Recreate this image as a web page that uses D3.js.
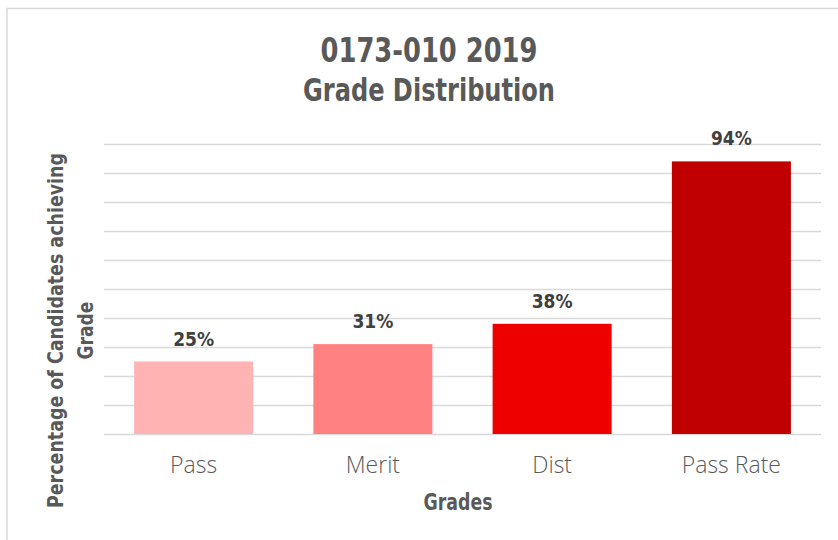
<!DOCTYPE html>
<html>
<head>
<meta charset="utf-8">
<script src="https://cdn.jsdelivr.net/npm/d3@7"></script>
<style>
  body { margin: 0; background: #fff; }
  svg text { font-family: "DejaVu Sans Condensed", "DejaVu Sans", sans-serif; }
  .xlab { font-family: "DejaVu Sans ExtraLight", "Open Sans Light", "Lato Light", "DejaVu Sans Condensed", sans-serif; }
</style>
</head>
<body>
<svg id="chart" width="838" height="540"></svg>
<script>
const categories = ["Pass", "Merit", "Dist", "Pass Rate"];
const values = [0.25, 0.31, 0.38, 0.94];
const valueLabels = ["25%", "31%", "38%", "94%"];
const colors = ["#FFB3B3", "#FF8181", "#EE0000", "#C00000"];
const yTicks = [0, 0.1, 0.2, 0.3, 0.4, 0.5, 0.6, 0.7, 0.8, 0.9, 1.0];
const titleLines = ["0173-010 2019", "Grade Distribution"];
const yTitleLines = ["Percentage of Candidates achieving", "Grade"];
const xTitle = "Grades";

const svg = d3.select("#chart");
const plot = { left: 104, right: 821, top: 144, bottom: 434 };

// chart border
svg.append("rect").attr("x", 7).attr("y", 8.5).attr("width", 900).attr("height", 600)
  .attr("fill", "#fff").attr("stroke", "#d9d9d9").attr("stroke-width", 1.5);

const x = d3.scaleBand().domain(categories).range([plot.left, plot.right])
  .paddingInner(0.336).paddingOuter(0.168);
const y = d3.scaleLinear().domain([0, 1]).range([plot.bottom, plot.top]);

// gridlines via axis
const grid = svg.append("g").attr("transform", `translate(${plot.left},0)`)
  .call(d3.axisLeft(y).tickValues(yTicks).tickSize(-(plot.right - plot.left)).tickFormat(""));
grid.select(".domain").remove();
grid.selectAll(".tick line").attr("stroke", "#d9d9d9").attr("stroke-width", 1.4);

// bars
svg.append("g").selectAll("rect").data(categories).join("rect")
  .attr("x", d => x(d)).attr("width", x.bandwidth())
  .attr("y", (d, i) => y(values[i]))
  .attr("height", (d, i) => y(0) - y(values[i]))
  .attr("fill", (d, i) => colors[i]);

// value labels
svg.append("g").selectAll("text").data(categories).join("text")
  .attr("x", d => x(d) + x.bandwidth() / 2)
  .attr("y", (d, i) => y(values[i]) - 16)
  .attr("text-anchor", "middle")
  .attr("font-size", 19).attr("font-weight", "bold").attr("fill", "#404040")
  .text((d, i) => valueLabels[i]);

// x axis labels
const xa = svg.append("g").attr("transform", `translate(0,${plot.bottom})`)
  .call(d3.axisBottom(x).tickSize(0).tickPadding(0));
xa.select(".domain").remove();
xa.selectAll(".tick text")
  .attr("class", "xlab")
  .attr("dy", 0).attr("y", 39)
  .attr("font-family", null)
  .attr("font-size", 23).attr("fill", "#595959");

// title
svg.append("text").attr("x", 429).attr("y", 62).attr("text-anchor", "middle")
  .attr("font-size", 33).attr("font-weight", "bold").attr("fill", "#595959")
  .attr("textLength", 217).attr("lengthAdjust", "spacingAndGlyphs")
  .text(titleLines[0]);
svg.append("text").attr("x", 429).attr("y", 101).attr("text-anchor", "middle")
  .attr("font-size", 32).attr("font-weight", "bold").attr("fill", "#595959")
  .attr("textLength", 252).attr("lengthAdjust", "spacingAndGlyphs")
  .text(titleLines[1]);

// y axis title
const yt = svg.append("g").attr("transform", "translate(63,330.5) rotate(-90)");
yt.append("text").attr("x", 0).attr("y", 0).attr("text-anchor", "middle")
  .attr("font-size", 22).attr("font-weight", "bold").attr("fill", "#595959")
  .attr("textLength", 355).attr("lengthAdjust", "spacingAndGlyphs")
  .text(yTitleLines[0]);
yt.append("text").attr("x", 0).attr("y", 30).attr("text-anchor", "middle")
  .attr("font-size", 22).attr("font-weight", "bold").attr("fill", "#595959")
  .attr("textLength", 58).attr("lengthAdjust", "spacingAndGlyphs")
  .text(yTitleLines[1]);

// x axis title
svg.append("text").attr("x", 458).attr("y", 510).attr("text-anchor", "middle")
  .attr("font-size", 23).attr("font-weight", "bold").attr("fill", "#595959")
  .attr("textLength", 69).attr("lengthAdjust", "spacingAndGlyphs")
  .text(xTitle);
</script>
</body>
</html>
